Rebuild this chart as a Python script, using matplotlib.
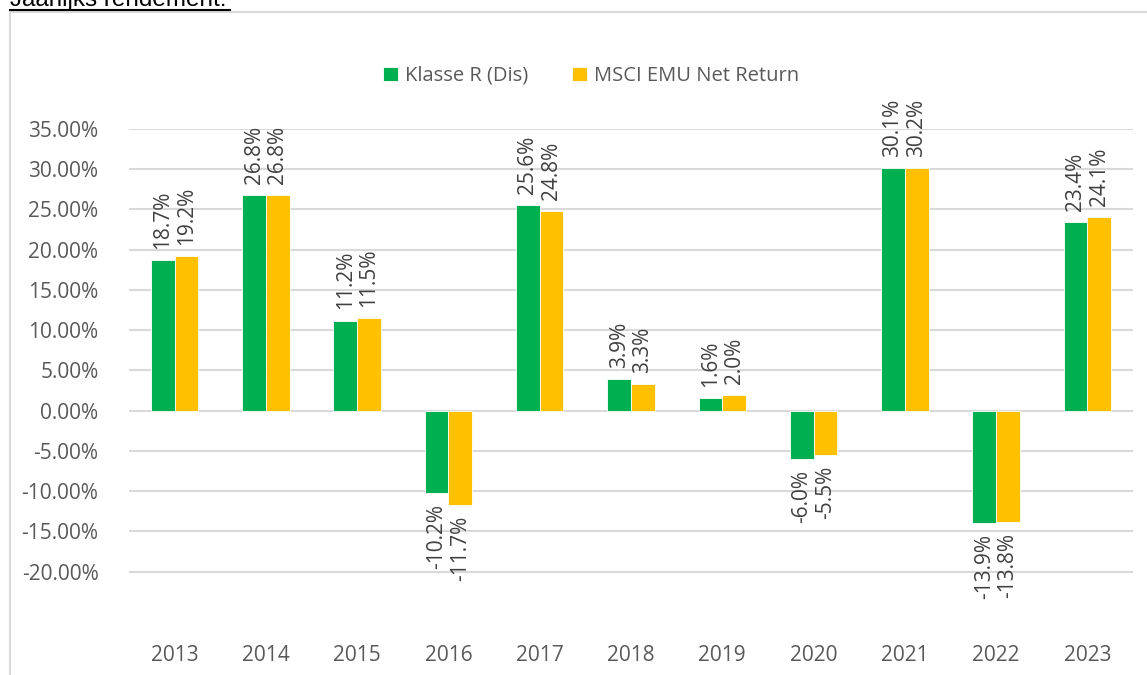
import matplotlib.pyplot as plt
from matplotlib.patches import Rectangle
from matplotlib.lines import Line2D
import numpy as np

years = ["2013", "2014", "2015", "2016", "2017", "2018", "2019", "2020", "2021", "2022", "2023"]
klasse_r = [18.7, 26.8, 11.2, -10.2, 25.6, 3.9, 1.6, -6.0, 30.1, -13.9, 23.4]
msci_emu = [19.2, 26.8, 11.5, -11.7, 24.8, 3.3, 2.0, -5.5, 30.2, -13.8, 24.1]
series_names = ["Klasse R (Dis)", "MSCI EMU Net Return"]
colors = ["#00B050", "#FFC000"]
yticks = [-20, -15, -10, -5, 0, 5, 10, 15, 20, 25, 30, 35]

plt.rcParams['font.family'] = ['Open Sans', 'DejaVu Sans']

W, H = 1147, 675
fig = plt.figure(figsize=(W / 100, H / 100), dpi=100)

# outer chart border (runs off right and bottom edge)
fig.patches.append(Rectangle((10 / W, -0.1), 1.2, 1 - 12 / H + 0.1, transform=fig.transFigure,
                             fill=False, edgecolor="#D9D9D9", linewidth=1.5))

# heading above the chart, partly cut off at the top
fig.text(10 / W, 1 - 6 / H, "Jaarlijks rendement:", fontsize=17.5, color="black",
         va="baseline", ha="left", family=["Liberation Sans", "DejaVu Sans"])
fig.add_artist(Line2D([10 / W, 230 / W], [1 - 10 / H, 1 - 10 / H], transform=fig.transFigure,
                      color="black", linewidth=1.5))

ax = fig.add_axes([129 / W, 1 - 620 / H, (1133 - 129) / W, (620 - 129) / H])

x = np.arange(len(years))
w = 0.26
for i, (vals, c) in enumerate(zip([klasse_r, msci_emu], colors)):
    xs = x + (i - 0.5) * w
    ax.bar(xs, vals, width=w, color=c, edgecolor="white", linewidth=0.6, zorder=3,
           label=series_names[i])
    for xi, v in zip(xs, vals):
        off = 8 if v >= 0 else -8
        ax.annotate(f"{v:.1f}%", (xi, v), xytext=(0, off), textcoords="offset points",
                    rotation=90, ha="center", va="bottom" if v >= 0 else "top",
                    fontsize=15, color="#404040", annotation_clip=False)

ax.set_xlim(-0.5, len(years) - 0.5)
ax.set_ylim(-26, 35)
ax.set_yticks(yticks)
ax.set_yticklabels([f"{t:.2f}%" for t in yticks])
ax.set_xticks(x)
ax.set_xticklabels(years)
ax.tick_params(axis="y", length=0, pad=22, labelsize=15, labelcolor="#595959")
ax.tick_params(axis="x", length=0, pad=18, labelsize=15, labelcolor="#595959")
ax.grid(axis="y", color="#D9D9D9", linewidth=1.5, zorder=0)
for s in ax.spines.values():
    s.set_visible(False)

handles, labels = ax.get_legend_handles_labels()
fig.legend(handles, labels, loc="center", bbox_to_anchor=(591 / W, 1 - 76 / H), ncol=2,
           frameon=False, fontsize=14.5, labelcolor="#595959", handlelength=0.75,
           handleheight=0.75, handletextpad=0.35, columnspacing=2.2)

fig.savefig("out.png", dpi=100)
